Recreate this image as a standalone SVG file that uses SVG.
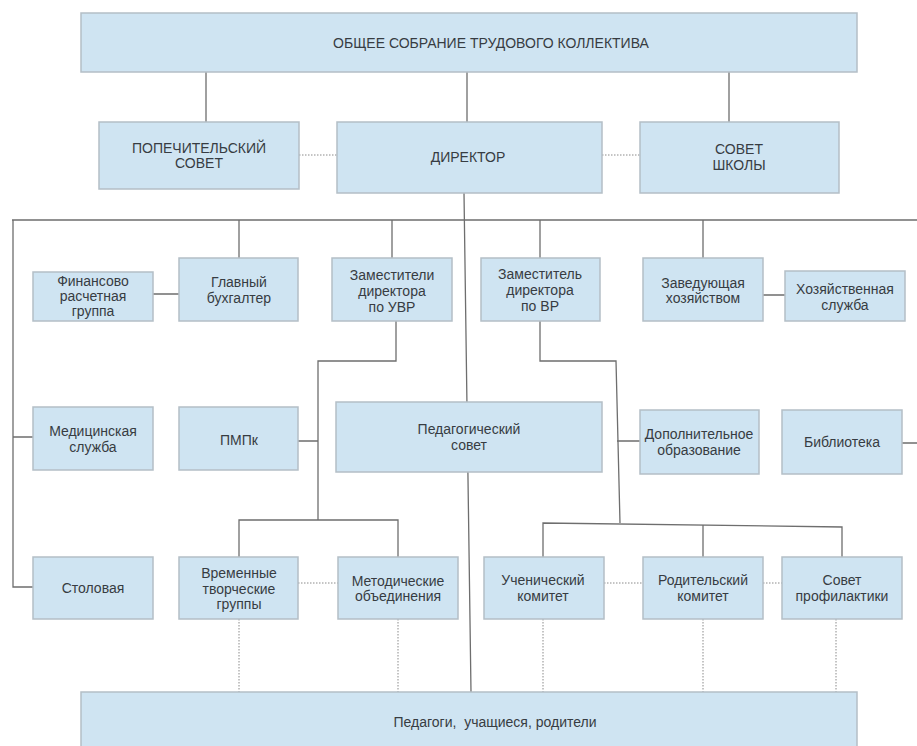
<svg xmlns="http://www.w3.org/2000/svg" width="917" height="746" viewBox="0 0 917 746">
<style>
.b{fill:#cfe4f2;stroke:#b4bec6;stroke-width:1.5}
.t{font-family:"Liberation Sans",Arial,sans-serif;font-size:14px;fill:#373c42;text-anchor:middle}
.s{fill:none;stroke:#6e6e6e;stroke-width:1.3}
.d{fill:none;stroke:#8a8a8a;stroke-width:1;stroke-dasharray:1.5 1.5}
</style>
<rect width="917" height="746" fill="#ffffff"/>
<g id="connectors">
<path class="s" d="M206 72V122M467 72V122M729 72V122"/>
<path class="s" d="M12 220H917M464 193L471 692"/>
<path class="s" d="M13 220V587H33M13 437H33"/>
<path class="s" d="M239 220V258M392 220V258M540 220V258M703 220V258"/>
<path class="s" d="M153 294H179M763 295H785M902 443H917"/>
<path class="s" d="M396 321V361H318V520M298 441H318M239 557V520H398V557"/>
<path class="s" d="M540 321V361H616L620 523M617 441H640M543 557V523L842 527V557M703 525V557"/>
<path class="d" d="M299 155H337M602 155H640M298 583H338M604 583H643M763 583H782"/>
<path class="d" d="M239 619V692M398 619V692M543 619V692M703 619V692M836 619V692"/>
</g>
<g id="n-top"><rect class="b" x="81" y="13" width="776" height="59"/><text class="t" x="491" y="48">ОБЩЕЕ СОБРАНИЕ ТРУДОВОГО КОЛЛЕКТИВА</text></g>
<g id="n-popech"><rect class="b" x="99" y="122" width="200" height="67"/><text class="t" x="199" y="153">ПОПЕЧИТЕЛЬСКИЙ</text><text class="t" x="199" y="168">СОВЕТ</text></g>
<g id="n-director"><rect class="b" x="337" y="122" width="265" height="71"/><text class="t" x="468" y="162">ДИРЕКТОР</text></g>
<g id="n-sovet"><rect class="b" x="640" y="122" width="199" height="71"/><text class="t" x="739" y="154">СОВЕТ</text><text class="t" x="739" y="170">ШКОЛЫ</text></g>
<g id="n-fin"><rect class="b" x="33" y="272" width="120" height="49"/><text class="t" x="93" y="286">Финансово</text><text class="t" x="93" y="301">расчетная</text><text class="t" x="93" y="316">группа</text></g>
<g id="n-buh"><rect class="b" x="179" y="258" width="119" height="63"/><text class="t" x="239" y="287">Главный</text><text class="t" x="239" y="303">бухгалтер</text></g>
<g id="n-uvr"><rect class="b" x="332" y="258" width="120" height="63"/><text class="t" x="392" y="280">Заместители</text><text class="t" x="392" y="296">директора</text><text class="t" x="392" y="312">по УВР</text></g>
<g id="n-vr"><rect class="b" x="481" y="258" width="119" height="63"/><text class="t" x="540" y="279">Заместитель</text><text class="t" x="540" y="295">директора</text><text class="t" x="540" y="311">по ВР</text></g>
<g id="n-zavhoz"><rect class="b" x="643" y="258" width="120" height="63"/><text class="t" x="703" y="288">Заведующая</text><text class="t" x="703" y="303">хозяйством</text></g>
<g id="n-hoz"><rect class="b" x="785" y="271" width="120" height="50"/><text class="t" x="845" y="294">Хозяйственная</text><text class="t" x="845" y="310">служба</text></g>
<g id="n-med"><rect class="b" x="33" y="407" width="120" height="63"/><text class="t" x="93" y="436">Медицинская</text><text class="t" x="93" y="452">служба</text></g>
<g id="n-pmpk"><rect class="b" x="179" y="407" width="119" height="63"/><text class="t" x="239" y="445">ПМПк</text></g>
<g id="n-pedsovet"><rect class="b" x="336" y="402" width="266" height="70"/><text class="t" x="469" y="434">Педагогический</text><text class="t" x="469" y="450">совет</text></g>
<g id="n-dop"><rect class="b" x="640" y="410" width="119" height="64"/><text class="t" x="699" y="439">Дополнительное</text><text class="t" x="699" y="455">образование</text></g>
<g id="n-bib"><rect class="b" x="782" y="410" width="120" height="64"/><text class="t" x="842" y="447">Библиотека</text></g>
<g id="n-stol"><rect class="b" x="33" y="557" width="120" height="62"/><text class="t" x="93" y="593">Столовая</text></g>
<g id="n-vtg"><rect class="b" x="179" y="557" width="119" height="62"/><text class="t" x="239" y="578">Временные</text><text class="t" x="239" y="594">творческие</text><text class="t" x="239" y="609">группы</text></g>
<g id="n-mo"><rect class="b" x="338" y="557" width="120" height="62"/><text class="t" x="398" y="586">Методические</text><text class="t" x="398" y="601">объединения</text></g>
<g id="n-uch"><rect class="b" x="484" y="557" width="120" height="62"/><text class="t" x="543" y="585">Ученический</text><text class="t" x="543" y="601">комитет</text></g>
<g id="n-rod"><rect class="b" x="643" y="557" width="120" height="62"/><text class="t" x="703" y="585">Родительский</text><text class="t" x="703" y="601">комитет</text></g>
<g id="n-prof"><rect class="b" x="782" y="557" width="120" height="62"/><text class="t" x="842" y="585">Совет</text><text class="t" x="842" y="601">профилактики</text></g>
<g id="n-bottom"><rect class="b" x="81" y="692" width="776" height="60"/><text class="t" x="495" y="727" xml:space="preserve">Педагоги,  учащиеся, родители</text></g>
</svg>
